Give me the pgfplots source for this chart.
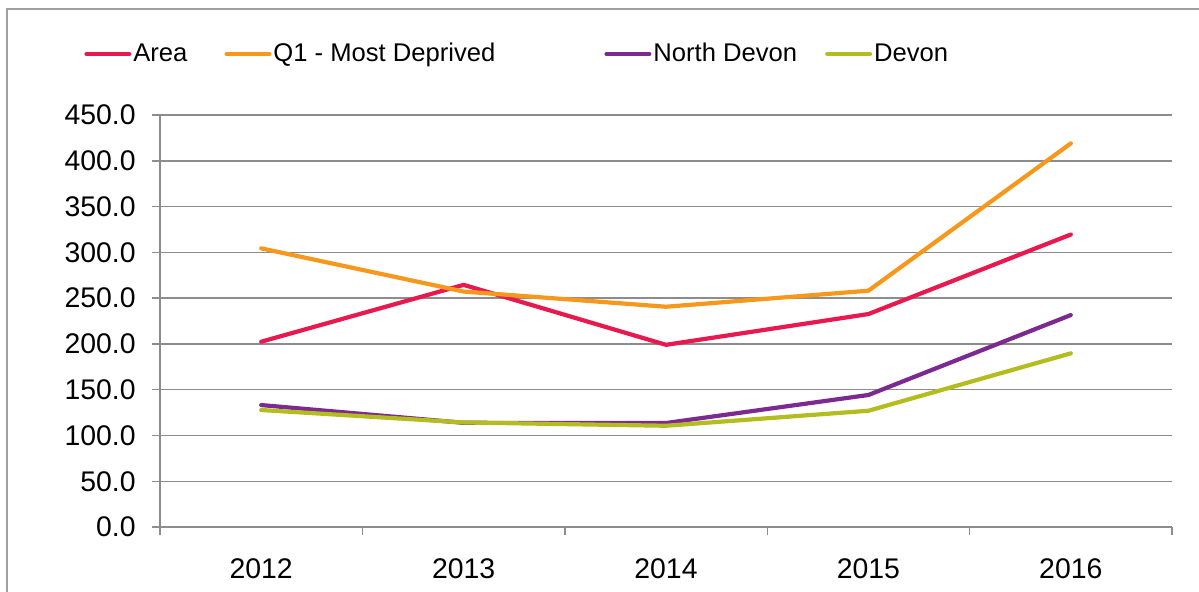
\documentclass[border=0pt]{standalone}
\usepackage{fontspec}
\setmainfont{Liberation Sans}
\usepackage{pgfplots}
\pgfplotsset{compat=1.18}
\definecolor{cArea}{HTML}{E8194F}
\definecolor{cQ}{HTML}{F7981D}
\definecolor{cND}{HTML}{7D2A90}
\definecolor{cDev}{HTML}{B4BD1F}
\definecolor{gridgray}{HTML}{8C8C8C}
\definecolor{framegray}{HTML}{A0A0A0}
\begin{document}
\begin{tikzpicture}
\useasboundingbox (0,0) rectangle (599.5pt,-295.5pt);
\draw[framegray, line width=0.8pt] (3.5pt,-300pt) -- (3.5pt,-4.5pt) -- (610pt,-4.5pt);
\begin{axis}[
  at={(80pt,-263.5pt)}, anchor=south west,
  scale only axis, width=506pt, height=206pt,
  xmin=-0.5, xmax=4.5, ymin=0, ymax=450,
  xtick={-0.5,0.5,1.5,2.5,3.5,4.5},
  x tick label as interval,
  xticklabels={2012,2013,2014,2015,2016},
  ytick={0,50,100,150,200,250,300,350,400,450},
  axis x line*=bottom, axis y line*=left,
  axis line style={-, gridgray, line width=0.7pt},
  tick style={gridgray, line width=0.7pt},
  major tick length=4pt, tick align=outside,
  ymajorgrids, major grid style={gridgray, line width=0.7pt},
  ticklabel style={font=\fontsize{14.2}{17}\selectfont},
  yticklabel style={anchor=east, inner sep=0pt, xshift=-8pt,
    /pgf/number format/.cd, fixed, fixed zerofill, precision=1, assume math mode=true},
  xticklabel style={anchor=north, inner sep=0pt, yshift=-11.5pt,
    /pgf/number format/assume math mode=true},
  no marks,
  every axis plot/.append style={line join=round, line cap=round},
  legend cell align=left,
  legend columns=4,
  legend style={draw=none, fill=none, at={(-0.0751,1.1481)}, anchor=west,
    inner sep=0pt,
    nodes={inner sep=0pt, font=\fontsize{12.8}{15}\selectfont},
    /tikz/every odd column/.append style={column sep=1pt},
    /tikz/every even column/.append style={column sep=14pt}},
  legend image code/.code={\draw[#1, line width=2pt, line cap=round] (0pt,0pt) -- (21.5pt,0pt);},
]
\addplot[cArea, line width=2.1pt] coordinates {(0,202.4) (1,264.5) (2,199) (3,232.6) (4,319.5)};
\addlegendentry{Area\rule{4.5pt}{0pt}}
\addplot[cQ, line width=2.1pt] coordinates {(0,304.4) (1,257.2) (2,240.6) (3,258.1) (4,419)};
\addlegendentry{Q1 - Most Deprived\rule{40.5pt}{0pt}}
\addplot[cND, line width=2.1pt] coordinates {(0,133.2) (1,113.8) (2,113.6) (3,144.2) (4,231.5)};
\addlegendentry{North Devon}
\addplot[cDev, line width=2.1pt] coordinates {(0,127.8) (1,114.2) (2,110.6) (3,127) (4,189.7)};
\addlegendentry{Devon}
\end{axis}
\end{tikzpicture}
\end{document}
